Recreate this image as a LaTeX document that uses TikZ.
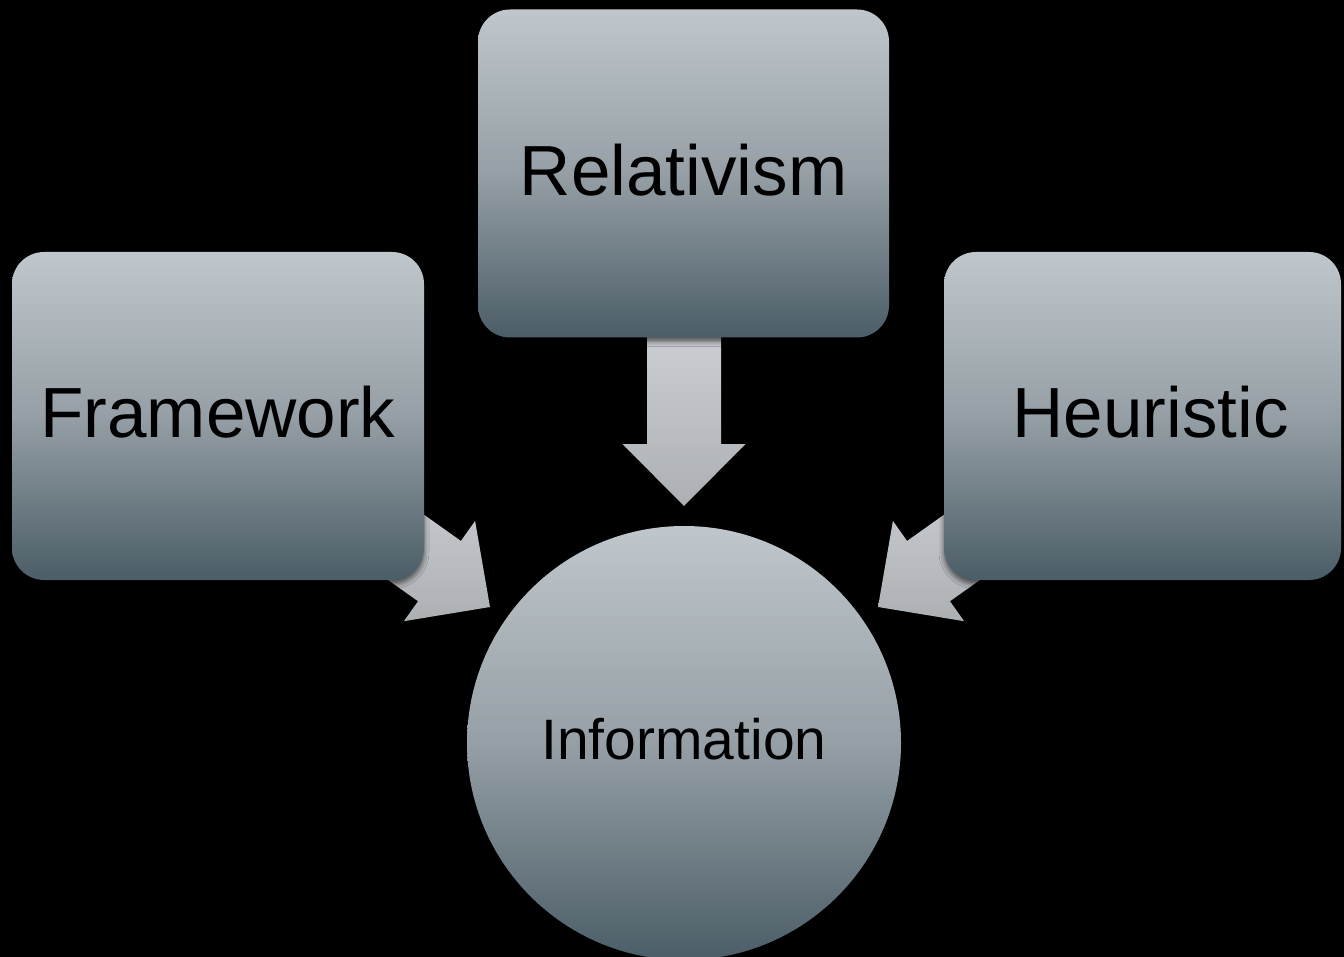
\documentclass[tikz,border=0pt]{standalone}
\usepackage{fontspec}
\setmainfont{Liberation Sans}
\usetikzlibrary{shadows.blur}

\definecolor{boxtop}{HTML}{BFC7CC}
\definecolor{boxmid}{HTML}{959FA5}
\definecolor{boxbot}{HTML}{4B5D67}
\definecolor{arrtop}{HTML}{CBCFD3}
\definecolor{arrbot}{HTML}{ACB0B3}

\tikzset{
  stage/.style={rounded corners=32pt, top color=boxtop, bottom color=boxbot,
    middle color=boxmid, inner sep=0pt, text=black, text depth=8pt,
    minimum height=328pt, font=\fontsize{71}{85}\selectfont,
    blur shadow={shadow xshift=0pt, shadow yshift=-4pt,
      shadow blur radius=5pt, shadow opacity=60}},
  hub/.style={circle, minimum size=434pt, inner sep=0pt, top color=boxtop,
    bottom color=boxbot, middle color=boxmid, text=black, text depth=8pt,
    font=\fontsize{57}{68}\selectfont},
  arrowbody/.style={top color=arrtop, bottom color=arrbot, draw=none}
}

% block arrow with its tip at #1, pointing in direction #2 (degrees)
\newcommand\flowarrow[2]{%
  \begin{scope}[shift={(#1)}, rotate=#2]
    \path[arrowbody] (0,0) -- (-62,61.5) -- (-62,37) -- (-175,37)
      -- (-175,-37) -- (-62,-37) -- (-62,-61.5) -- cycle;
  \end{scope}}

\begin{document}
\begin{tikzpicture}[x=1pt, y=1pt]
  \fill[black] (0,0) rectangle (1344,-957);
  \useasboundingbox (0,0) rectangle (1344,-957);
  \clip (0,0) rectangle (1344,-957);

  % arrow tips pointing at the hub
  \coordinate (tipTop)   at (684,-506);
  \coordinate (tipLeft)  at (490,-607);
  \coordinate (tipRight) at (878,-607);

  \flowarrow{tipTop}{-90}
  \flowarrow{tipLeft}{-35.4}
  \flowarrow{tipRight}{215.4}

  \node[stage, minimum width=411pt] (relativism) at (683.5,-173.5) {Relativism};
  \node[stage, minimum width=412pt] (framework)  at (218,-416) {Framework};
  \node[stage, minimum width=397pt] (heuristic)  at (1142.5,-416) {\hspace{16pt}Heuristic};

  \node[hub] (information) at (684,-743) {Information};
\end{tikzpicture}
\end{document}
